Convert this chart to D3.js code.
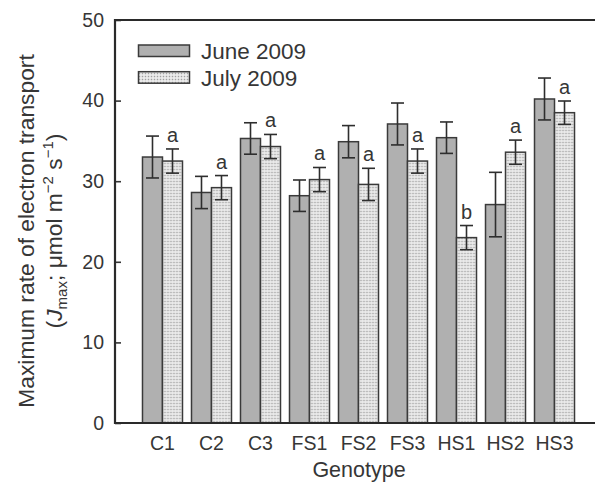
<!DOCTYPE html>
<html>
<head>
<meta charset="utf-8">
<script src="https://cdn.jsdelivr.net/npm/d3@7"></script>
<style>
  html, body { margin: 0; padding: 0; background: #fff; }
  svg { display: block; font-family: "Liberation Sans", Arial, sans-serif; }
</style>
</head>
<body>
<svg id="chart" width="595" height="483"></svg>
<script>
// Genotypes and measurement campaigns
const genotypes = ["C1", "C2", "C3", "FS1", "FS2", "FS3", "HS1", "HS2", "HS3"];
const seriesNames = ["June 2009", "July 2009"];

// Jmax means and standard errors (µmol m-2 s-1)
const juneMean = [33.0, 28.6, 35.3, 28.2, 34.9, 37.1, 35.4, 27.1, 40.2];
const juneErr  = [2.6, 2.0, 1.95, 1.95, 2.0, 2.6, 1.95, 4.0, 2.6];
const julyMean = [32.5, 29.2, 34.3, 30.2, 29.6, 32.5, 23.0, 33.6, 38.5];
const julyErr  = [1.5, 1.5, 1.5, 1.5, 2.0, 1.5, 1.5, 1.5, 1.45];
// Significance letters shown above the July bars
const julyLetters = ["a", "a", "a", "a", "a", "a", "b", "a", "a"];

const yTicks = [0, 10, 20, 30, 40, 50];

const ink = "#363636";
const svg = d3.select("#chart");

// Dotted fill for the July bars
const defs = svg.append("defs");
const pat = defs.append("pattern")
  .attr("id", "dots")
  .attr("patternUnits", "userSpaceOnUse")
  .attr("width", 3).attr("height", 3);
pat.append("rect").attr("width", 3).attr("height", 3).attr("fill", "#efefef");
pat.append("rect").attr("x", 0.75).attr("y", 0.75)
  .attr("width", 1.5).attr("height", 1.5).attr("fill", "#a0a0a0");

const fills = { "June 2009": "#b0b0b0", "July 2009": "url(#dots)" };

// Scales
const x = d3.scaleBand()
  .domain(genotypes)
  .range([115, 602])
  .paddingInner(9 / 49)
  .paddingOuter(0.561)
  .align(0.5);

const xs = d3.scaleBand()
  .domain(seriesNames)
  .range([0, x.bandwidth()])
  .padding(0);

const y = d3.scaleLinear().domain([0, 50]).range([423, 20]);

// Data rows
const rows = genotypes.map((g, i) => ({
  g,
  bars: [
    { s: seriesNames[0], v: juneMean[i], e: juneErr[i], letter: null },
    { s: seriesNames[1], v: julyMean[i], e: julyErr[i], letter: julyLetters[i] }
  ]
}));

// Bars
const groups = svg.append("g").selectAll("g")
  .data(rows).join("g")
  .attr("transform", d => `translate(${x(d.g)},0)`);

groups.selectAll("rect")
  .data(d => d.bars).join("rect")
  .attr("x", d => xs(d.s))
  .attr("y", d => y(d.v))
  .attr("width", xs.bandwidth())
  .attr("height", d => y(0) - y(d.v))
  .attr("fill", d => fills[d.s])
  .attr("stroke", "#3a3a3a")
  .attr("stroke-width", 1.5);

// Error bars
const capHalf = 6.5;
const eb = groups.selectAll("g.err")
  .data(d => d.bars).join("g")
  .attr("class", "err")
  .attr("stroke", "#2e2e2e")
  .attr("stroke-width", 1.6)
  .attr("fill", "none");
eb.append("line")
  .attr("x1", d => xs(d.s) + xs.bandwidth() / 2)
  .attr("x2", d => xs(d.s) + xs.bandwidth() / 2)
  .attr("y1", d => y(d.v + d.e))
  .attr("y2", d => y(d.v - d.e));
eb.append("line")
  .attr("x1", d => xs(d.s) + xs.bandwidth() / 2 - capHalf)
  .attr("x2", d => xs(d.s) + xs.bandwidth() / 2 + capHalf)
  .attr("y1", d => y(d.v + d.e))
  .attr("y2", d => y(d.v + d.e));
eb.append("line")
  .attr("x1", d => xs(d.s) + xs.bandwidth() / 2 - capHalf)
  .attr("x2", d => xs(d.s) + xs.bandwidth() / 2 + capHalf)
  .attr("y1", d => y(d.v - d.e))
  .attr("y2", d => y(d.v - d.e));

// Significance letters
groups.selectAll("text.letter")
  .data(d => d.bars.filter(b => b.letter)).join("text")
  .attr("class", "letter")
  .attr("x", d => xs(d.s) + xs.bandwidth() / 2)
  .attr("y", d => y(d.v + d.e) - 7)
  .attr("text-anchor", "middle")
  .attr("font-size", 20)
  .attr("fill", ink)
  .text(d => d.letter);

// Y axis (ticks pointing inward)
const yAxis = svg.append("g")
  .attr("transform", "translate(115,0)")
  .call(d3.axisLeft(y).tickValues(yTicks).tickFormat(d3.format("d"))
    .tickSizeInner(-6).tickSizeOuter(0).tickPadding(11));
yAxis.select(".domain").remove();
yAxis.selectAll("line").attr("stroke", ink).attr("stroke-width", 1.6);
yAxis.selectAll("text").attr("font-size", 19.5).attr("fill", ink)
  .attr("font-family", "Liberation Sans, Arial, sans-serif");

// X axis labels
const xAxis = svg.append("g")
  .attr("transform", "translate(0,423)")
  .call(d3.axisBottom(x).tickSize(0).tickPadding(13));
xAxis.select(".domain").remove();
xAxis.selectAll("text").attr("font-size", 19.5).attr("fill", ink)
  .attr("font-family", "Liberation Sans, Arial, sans-serif");

// Plot frame: left, top and bottom edges
const frame = svg.append("g").attr("stroke", "#2a2a2a").attr("stroke-width", 2.2).attr("fill", "none");
frame.append("line").attr("x1", 115).attr("x2", 115).attr("y1", y(50) - 1).attr("y2", y(0) + 1);
frame.append("line").attr("x1", 114).attr("x2", 600).attr("y1", y(50)).attr("y2", y(50));
frame.append("line").attr("x1", 114).attr("x2", 600).attr("y1", y(0)).attr("y2", y(0));

// Legend
const legend = svg.append("g");
seriesNames.forEach((s, i) => {
  const ly = 45 + i * 26.7;
  legend.append("rect")
    .attr("x", 138.5).attr("y", ly)
    .attr("width", 51).attr("height", 11.5)
    .attr("fill", fills[s])
    .attr("stroke", "#3a3a3a").attr("stroke-width", 1.5);
  legend.append("text")
    .attr("x", 201).attr("y", ly + 14)
    .attr("font-size", 22.5).attr("fill", ink)
    .text(s);
});

// Axis titles
svg.append("text")
  .attr("x", 359).attr("y", 477)
  .attr("text-anchor", "middle")
  .attr("font-size", 21.5).attr("fill", ink)
  .text("Genotype");

const yt = svg.append("g").attr("transform", "translate(0,231) rotate(-90)");
yt.append("text")
  .attr("x", 0).attr("y", 34)
  .attr("text-anchor", "middle")
  .attr("font-size", 22.8).attr("fill", ink)
  .text("Maximum rate of electron transport");
const t2 = yt.append("text")
  .attr("x", 0).attr("y", 62)
  .attr("text-anchor", "middle")
  .attr("font-size", 22.8).attr("fill", ink);
t2.append("tspan").text("(");
t2.append("tspan").attr("font-style", "italic").text("J");
t2.append("tspan").attr("font-size", 15).attr("dy", 5).text("max");
t2.append("tspan").attr("dy", -5).text("; \u03bcmol m");
t2.append("tspan").attr("font-size", 15).attr("dy", -9).text("\u22122");
t2.append("tspan").attr("dy", 9).text(" s");
t2.append("tspan").attr("font-size", 15).attr("dy", -9).text("\u22121");
t2.append("tspan").attr("dy", 9).text(")");
</script>
</body>
</html>
